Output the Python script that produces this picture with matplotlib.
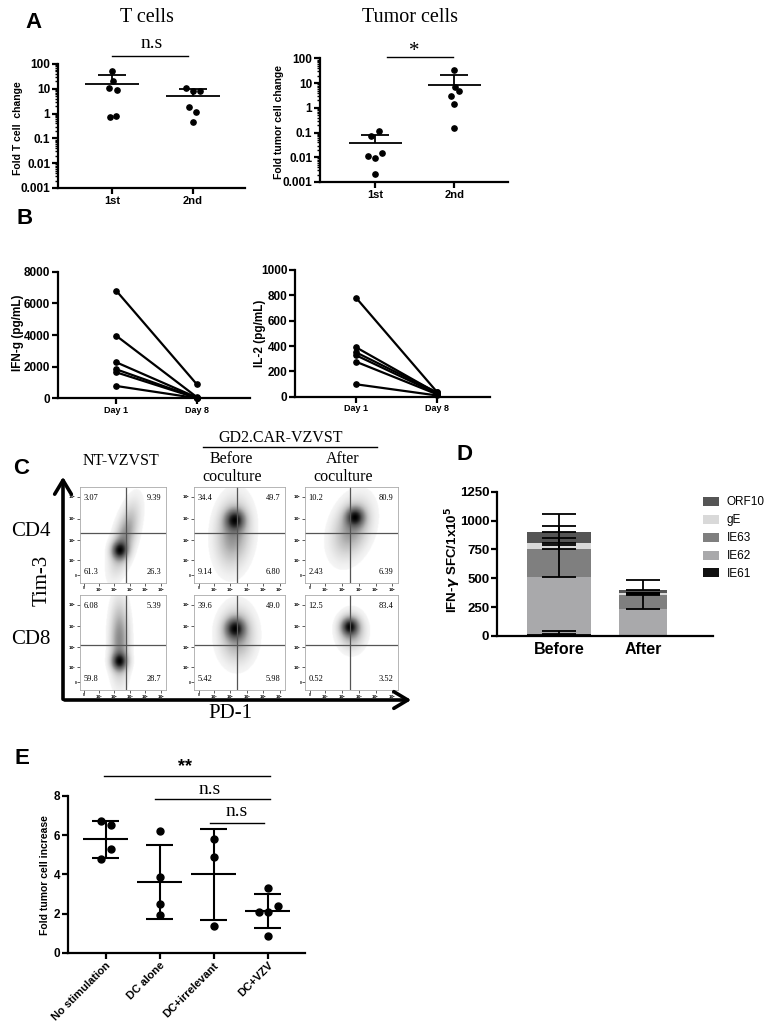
import numpy as np
import matplotlib
matplotlib.use("Agg")
import matplotlib.pyplot as plt
from matplotlib.ticker import LogLocator, NullFormatter

W, H = 774, 1032
SANS = ["Liberation Sans", "DejaVu Sans"]
SERIF = ["Liberation Serif", "DejaVu Serif"]

plt.rcParams["font.family"] = SANS
plt.rcParams["font.weight"] = "bold"
plt.rcParams["axes.linewidth"] = 1.6

# ---------------- data ----------------
# A: fold change after 1st / 2nd tumor challenge
rounds = ["1st", "2nd"]
tcell_1st = [54, 20, 10.5, 9.0, 0.75, 0.83]
tcell_2nd = [10.5, 8.3, 8.3, 1.9, 1.2, 0.47]
tcell_mean = [15.5, 5.1]
tcell_sem_top = [36, 9.6]
tcell_jitter = [[0.0, 0.01, -0.04, 0.06, -0.03, 0.05],
                [-0.09, 0.0, 0.09, -0.045, 0.04, 0.0]]
tumor_1st = [0.076, 0.115, 0.0115, 0.0091, 0.0155, 0.0022]
tumor_2nd = [34, 6.8, 5.0, 3.1, 1.5, 0.16]
tumor_mean = [0.037, 8.5]
tumor_sem_top = [0.079, 21]
tumor_jitter = [[-0.05, 0.05, -0.09, 0.0, 0.09, 0.0],
                [0.0, 0.01, 0.06, -0.04, 0.0, 0.0]]

# B: cytokines, paired per donor
days = ["Day 1", "Day 8"]
ifng_day1 = [6810, 3960, 2280, 1835, 1645, 780]
ifng_day8 = [890, 80, 50, 30, 20, 10]
il2_day1 = [781, 390, 350, 327, 276, 98]
il2_day8 = [40, 30, 35, 25, 20, 10]

# C: flow quadrants (UL, UR, LL, LR)
flow_rows = ["CD4", "CD8"]
flow_pct = [
    [["3.07", "9.39", "61.3", "26.3"], ["34.4", "49.7", "9.14", "6.80"], ["10.2", "80.9", "2.43", "6.39"]],
    [["6.08", "5.39", "59.8", "28.7"], ["39.6", "49.0", "5.42", "5.98"], ["12.5", "83.4", "0.52", "3.52"]],
]
# density blobs: core (x, y, sigma) and halo (x, y, sx, sy, rho, weight)
flow_core = [[(0.46, 0.34, 0.06), (0.45, 0.66, 0.07), (0.54, 0.69, 0.065)],
             [(0.46, 0.30, 0.06), (0.45, 0.65, 0.07), (0.48, 0.67, 0.06)]]
flow_halo = [[(0.52, 0.47, 0.10, 0.22, 0.6, 0.6), (0.43, 0.52, 0.12, 0.22, 0.1, 0.6), (0.50, 0.57, 0.13, 0.19, 0.3, 0.55)],
             [(0.46, 0.52, 0.07, 0.26, 0.0, 0.6), (0.47, 0.58, 0.12, 0.18, 0.0, 0.55), (0.50, 0.62, 0.09, 0.12, 0.0, 0.5)]]
gate_x = [0.53, 0.47, 0.48]
gate_y = [0.52, 0.47]

# D: IFN-g ELISpot stacked by antigen
d_groups = ["Before", "After"]
antigens = ["IE61", "IE62", "IE63", "gE", "ORF10"]
antigen_colors = ["#111111", "#a9a9ab", "#7f7f7f", "#d9d9d9", "#555555"]
sfc_before = [18, 495, 237, 57, 95]
sfc_after = [2, 234, 122, 12, 28]
sfc_err_before = [28, 274, 204, 38, 153]
sfc_err_after = [0, 127, 10, 5, 88]

# E: fold tumor cell increase
e_groups = ["No stimulation", "DC alone", "DC+irrelevant", "DC+VZV"]
e_vals = [[6.7, 6.5, 5.3, 4.8], [6.2, 3.85, 2.5, 1.95], [5.8, 4.87, 1.38], [3.32, 2.38, 2.09, 2.09, 0.87]]
e_jitter = [[-0.08, 0.09, 0.09, -0.08], [0, 0, 0, 0], [0, 0, 0], [0, 0.185, -0.167, 0.0, 0]]
e_mean = [5.8, 3.62, 4.0, 2.13]
e_sd = [0.94, 1.9, 2.32, 0.88]

# ---------------- figure ----------------
fig = plt.figure(figsize=(W / 100, H / 100), dpi=100)
ov = fig.add_axes([0, 0, 1, 1])
ov.set_xlim(0, W)
ov.set_ylim(H, 0)
ov.set_axis_off()
ov.set_zorder(10)


def axes_px(left, top, right, bottom):
    return fig.add_axes([left / W, 1 - bottom / H, (right - left) / W, (bottom - top) / H])


def style(ax, lw=1.6):
    for s in ("top", "right"):
        ax.spines[s].set_visible(False)
    for s in ("left", "bottom"):
        ax.spines[s].set_linewidth(lw)
    ax.tick_params(width=lw, length=4, direction="out", pad=1.5, labelsize=8.5)


def letter(x, y, s):
    ov.text(x, y, s, fontsize=16, fontweight="bold", ha="center", va="center")


def log_dots(ax, groups, jitter, mean, top):
    style(ax)
    for i, vals in enumerate(groups):
        ax.plot(i + np.array(jitter[i]), vals, "o", color="black", ms=3.8, clip_on=False, zorder=3)
        ax.hlines(mean[i], i - 0.335, i + 0.335, color="black", lw=1.3)
        ax.vlines(i, mean[i], top[i], color="black", lw=1.3)
        ax.hlines(top[i], i - 0.175, i + 0.175, color="black", lw=1.3)
    ax.set_yscale("log")
    ax.set_ylim(1e-3, 100)
    ax.set_yticks([1e-3, 1e-2, 1e-1, 1, 10, 100])
    ax.set_yticklabels(["0.001", "0.01", "0.1", "1", "10", "100"])
    ax.yaxis.set_minor_locator(LogLocator(base=10, subs=np.arange(2, 10), numticks=20))
    ax.yaxis.set_minor_formatter(NullFormatter())
    ax.tick_params(axis="y", which="minor", length=2.5, width=1.0)
    ax.set_xticks([0, 1])
    ax.set_xticklabels(rounds, fontsize=8)


# ---- A ----
letter(33, 22, "A")
axA1 = axes_px(58, 64, 245, 188)
log_dots(axA1, [tcell_1st, tcell_2nd], tcell_jitter, tcell_mean, tcell_sem_top)
axA1.set_xlim(-0.667, 1.64)
axA2 = axes_px(320, 58.5, 508, 182)
log_dots(axA2, [tumor_1st, tumor_2nd], tumor_jitter, tumor_mean, tumor_sem_top)
axA2.set_xlim(-0.70, 1.68)

ov.text(147, 18, "T cells", family=SERIF, fontweight="normal", fontsize=14.5, ha="center", va="center")
ov.text(410, 17, "Tumor cells", family=SERIF, fontweight="normal", fontsize=14.5, ha="center", va="center")
ov.text(152, 44, "n.s", family=SERIF, fontweight="normal", fontsize=14, ha="center", va="center")
ov.plot([112, 188], [56, 56], color="black", lw=1.0)
ov.text(414, 51, "*", family=SERIF, fontweight="normal", fontsize=15, ha="center", va="center")
ov.plot([387, 453], [57, 57], color="black", lw=1.0)
ov.text(18, 128, "Fold T cell  change", rotation=90, fontsize=7.5, ha="center", va="center")
ov.text(279, 122, "Fold tumor cell change", rotation=90, fontsize=7.5, ha="center", va="center")

# ---- B ----
letter(25, 218, "B")
axB1 = axes_px(58, 271.7, 250, 398.3)
axB2 = axes_px(295, 270, 490, 396.7)
for ax, d1, d8, ymax, step in [(axB1, ifng_day1, ifng_day8, 8000, 2000),
                               (axB2, il2_day1, il2_day8, 1000, 200)]:
    style(ax)
    for a, b in zip(d1, d8):
        ax.plot([0, 1], [a, b], "-o", color="black", lw=1.6, ms=3.8, clip_on=False)
    ax.set_ylim(0, ymax)
    ax.set_yticks(np.arange(0, ymax + 1, step))
    ax.set_xticks([0, 1])
    ax.set_xticklabels(days, fontsize=6.5)
axB1.set_xlim(-0.72, 1.66)
axB2.set_xlim(-0.756, 1.66)
ov.text(18, 333, "IFN-g (pg/mL)", rotation=90, fontsize=8.5, ha="center", va="center")
ov.text(260, 333, "IL-2 (pg/mL)", rotation=90, fontsize=8.5, ha="center", va="center")

# ---- C ----
letter(21, 468, "C")
col_px = [(80, 166), (194, 285), (305, 398)]
row_px = [(487, 583), (595, 690)]
gx, gy = np.meshgrid(np.linspace(0, 1, 160), np.linspace(0, 1, 160))


def gauss(cx, cy, sx, sy, rho):
    dx = (gx - cx) / sx
    dy = (gy - cy) / sy
    return np.exp(-(dx * dx - 2 * rho * dx * dy + dy * dy) / (2 * (1 - rho ** 2)))


for r in range(2):
    for c in range(3):
        ax = axes_px(col_px[c][0], row_px[r][0], col_px[c][1], row_px[r][1])
        cx, cy, cs = flow_core[r][c]
        hx, hy, hsx, hsy, hrho, hw = flow_halo[r][c]
        dens = gauss(cx, cy, cs, cs, 0) + hw * gauss(hx, hy, hsx, hsy, hrho)
        dens = (dens / dens.max()) ** 0.7
        dens[dens < 0.08] = 0
        ax.imshow(dens, extent=(0, 1, 0, 1), origin="lower", cmap="Greys",
                  vmin=0, vmax=1.0, aspect="auto", interpolation="bilinear")
        ax.set_xlim(0, 1)
        ax.set_ylim(0, 1)
        ax.axvline(gate_x[c], color="#555555", lw=0.9)
        ax.axhline(gate_y[r], color="#555555", lw=0.9)
        for s in ax.spines.values():
            s.set_color("#aaaaaa")
            s.set_linewidth(0.6)
        ax.set_xticks([0.05, 0.22, 0.4, 0.58, 0.76, 0.94])
        ax.set_xticklabels(["0", "$10^2$", "$10^3$", "$10^4$", "$10^5$", "$10^6$"])
        ax.set_yticks([0.08, 0.24, 0.45, 0.67, 0.9])
        ax.set_yticklabels(["0", "$10^2$", "$10^3$", "$10^4$", "$10^5$"])
        ax.tick_params(length=2, width=0.6, color="#444444", labelsize=2.5, pad=0.5)
        ul, ur, ll, lr = flow_pct[r][c]
        kw = dict(transform=ax.transAxes, family=SERIF, fontweight="normal", fontsize=6)
        ax.text(0.04, 0.93, ul, ha="left", va="top", **kw)
        ax.text(0.95, 0.93, ur, ha="right", va="top", **kw)
        ax.text(0.04, 0.07, ll, ha="left", va="bottom", **kw)
        ax.text(0.95, 0.07, lr, ha="right", va="bottom", **kw)

ov.annotate("", xy=(63, 474), xytext=(63, 702),
            arrowprops=dict(arrowstyle="->,head_length=0.5,head_width=0.3", lw=2.6, color="black", mutation_scale=20))
ov.annotate("", xy=(414, 700), xytext=(61.8, 700),
            arrowprops=dict(arrowstyle="->,head_length=0.5,head_width=0.3", lw=2.6, color="black", mutation_scale=20))
serif_kw = dict(family=SERIF, fontweight="normal", ha="center", va="center")
ov.text(42, 580, "Tim-3", rotation=90, fontsize=15, **serif_kw)
ov.text(230, 714, "PD-1", fontsize=15, **serif_kw)
for r, name in enumerate(flow_rows):
    ov.text(31, (row_px[r][0] + row_px[r][1]) / 2 - 3, name, fontsize=15, **serif_kw)
ov.text(121, 461, "NT-VZVST", fontsize=11.5, **serif_kw)
ov.text(281, 438, "GD2.CAR-VZVST", fontsize=11.5, **serif_kw)
ov.plot([203, 377], [447, 447], color="black", lw=1.0)
ov.text(231, 459, "Before", fontsize=11.5, **serif_kw)
ov.text(232, 477, "coculture", fontsize=11.5, **serif_kw)
ov.text(343, 459, "After", fontsize=11.5, **serif_kw)
ov.text(343, 477, "coculture", fontsize=11.5, **serif_kw)

# ---- D ----
letter(464, 455, "D")
axD = axes_px(497, 491.7, 713, 636)
style(axD)
widths = [0.76, 0.57]
handles = []
for gi, (vals, errs) in enumerate([(sfc_before, sfc_err_before), (sfc_after, sfc_err_after)]):
    bottom = 0
    for k, v in enumerate(vals):
        b = axD.bar(gi, v, bottom=bottom, width=widths[gi], color=antigen_colors[k], linewidth=0)
        if gi == 0:
            handles.append(b)
        bottom += v
    bottom = 0
    for k, v in enumerate(vals):
        bottom += v
        if errs[k] > 0:
            axD.errorbar(gi, bottom, yerr=[[0], [errs[k]]], fmt="none", ecolor="black",
                         elinewidth=1.3, capsize=12, capthick=1.3)
axD.set_xlim(-0.738, 1.83)
axD.set_ylim(0, 1250)
axD.set_yticks(np.arange(0, 1251, 250))
axD.tick_params(axis="y", labelsize=9.5)
axD.set_xticks([0, 1])
axD.set_xticklabels(d_groups, fontsize=11.5)
axD.tick_params(axis="x", length=0, pad=4)
axD.legend(handles[::-1], antigens[::-1], loc="upper left", bbox_to_anchor=(0.93, 1.0),
           frameon=False, prop={"family": SANS, "weight": "normal", "size": 8.5},
           handlelength=1.35, handleheight=0.8, handletextpad=0.7, labelspacing=0.5,
           borderaxespad=0)
ov.text(453, 560, r"IFN-$\gamma$ SFC/1x10$^5$", rotation=90, fontsize=9.5, ha="center", va="center")

# ---- E ----
letter(22, 758, "E")
axE = axes_px(68, 796, 305, 952.7)
style(axE)
for i, vals in enumerate(e_vals):
    axE.plot(i + np.array(e_jitter[i]), vals, "o", color="black", ms=5, zorder=3)
    axE.hlines(e_mean[i], i - 0.42, i + 0.42, color="black", lw=1.5)
    axE.vlines(i, e_mean[i] - e_sd[i], e_mean[i] + e_sd[i], color="black", lw=1.5)
    axE.hlines([e_mean[i] - e_sd[i], e_mean[i] + e_sd[i]], i - 0.25, i + 0.25, color="black", lw=1.5)
axE.set_xlim(-0.70, 3.69)
axE.set_ylim(0, 8)
axE.set_yticks([0, 2, 4, 6, 8])
axE.set_xticks(range(len(e_groups)))
axE.set_xticklabels(e_groups, rotation=45, ha="right", rotation_mode="anchor", fontsize=8)
ov.text(45, 875, "Fold tumor cell increase", rotation=90, fontsize=7.5, ha="center", va="center")
ov.plot([104, 270], [775.7, 775.7], color="black", lw=1.0)
ov.text(185, 767, "**", fontsize=13, ha="center", va="center")
ov.plot([155, 270], [799, 799], color="black", lw=1.0)
ov.text(210, 789, "n.s", family=SERIF, fontweight="normal", fontsize=14, ha="center", va="center")
ov.plot([210, 264], [823.3, 823.3], color="black", lw=1.0)
ov.text(237, 812, "n.s", family=SERIF, fontweight="normal", fontsize=14, ha="center", va="center")

fig.savefig("out.png", dpi=100, facecolor="white")
